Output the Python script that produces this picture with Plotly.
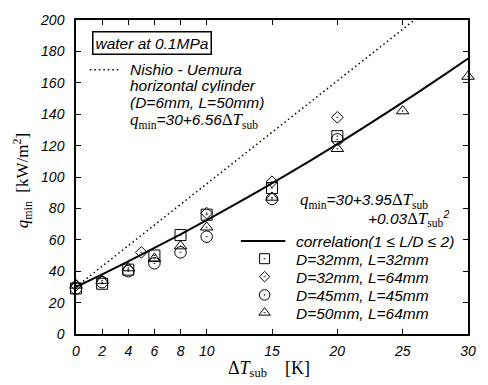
import plotly.graph_objects as go

# ---------------- data ----------------
x_sq = [0, 2, 4, 6, 8, 10, 15, 20]
y_sq = [29, 32, 41, 50, 63, 76, 93, 126]

x_di = [0, 5, 10, 15, 20]
y_di = [31, 52, 77, 97, 138]

x_ci = [0, 2, 4, 6, 8, 10, 15, 20]
y_ci = [29, 33, 40, 45, 52, 62, 86, 124]

x_tr = [0, 2, 4, 6, 8, 10, 15, 20, 25, 30]
y_tr = [31, 34, 42, 48, 56, 68, 87, 118, 142, 164]

# correlation curve
x_corr = [0, 2, 4, 6, 8, 10, 12, 14, 16, 18, 20, 22, 24, 26, 28, 30]
y_corr = [30, 38.0, 46.3, 54.8, 63.5, 72.5, 81.7, 91.2, 100.9, 110.8, 121.0,
          131.4, 142.1, 153.0, 164.1, 175.5]

# Nishio-Uemura line
x_nu = [0, 25.9]
y_nu = [30, 200]

x_ticks = [0, 2, 4, 6, 8, 10, 15, 20, 25, 30]
y_ticks = [0, 20, 40, 60, 80, 100, 120, 140, 160, 180, 200]

legend_labels = ["D=32mm, L=32mm", "D=32mm, L=64mm", "D=45mm, L=45mm", "D=50mm, L=64mm"]

# ---------------- layout geometry ----------------
W, H = 488, 385
L, R, T, B = 76, 15, 15, 51
PW, PH = W - L - R, H - T - B


def px(xp):
    return (xp - L) / PW


def py(yp):
    return (H - B - yp) / PH


SANS = "Liberation Sans"
SERIF = "Liberation Serif"
SER = "<span style='font-family:Liberation Serif;font-style:normal;font-size:16.5px'>"
SERI = "<span style='font-family:Liberation Serif;font-style:italic;font-size:17px'>"

fig = go.Figure()

fig.add_trace(go.Scatter(x=x_nu, y=y_nu, mode="lines",
                         line=dict(color="black", width=1.5, dash="1.5px,3px"),
                         showlegend=False, cliponaxis=False))
fig.add_trace(go.Scatter(x=x_corr, y=y_corr, mode="lines", line_shape="spline",
                         line=dict(color="black", width=2),
                         showlegend=False, cliponaxis=False))

series = [
    (x_sq, y_sq, "square-open-dot", 11),
    (x_di, y_di, "diamond-open-dot", 9),
    (x_ci, y_ci, "circle-open-dot", 11.5),
    (x_tr, y_tr, "triangle-up-open-dot", 11),
]
for xs, ys, sym, sz in series:
    fig.add_trace(go.Scatter(x=xs, y=ys, mode="markers",
                             marker=dict(symbol=sym, size=sz, color="black",
                                         line=dict(color="black", width=1)),
                             showlegend=False, cliponaxis=False))

# legend samples on an overlay (paper-like) axis
leg_rows_y = [257.5, 275.7, 294.3, 312.3]
for (xs, ys, sym, sz), ry in zip(series, leg_rows_y):
    fig.add_trace(go.Scatter(x=[px(267)], y=[py(ry)], mode="markers",
                             xaxis="x2", yaxis="y2",
                             marker=dict(symbol=sym, size=sz - 1, color="black",
                                         line=dict(color="black", width=1)),
                             showlegend=False, cliponaxis=False))

shapes = [
    dict(type="line", xref="paper", yref="paper", x0=px(243), x1=px(288),
         y0=py(239.5), y1=py(239.5), line=dict(color="black", width=2)),
    dict(type="line", xref="paper", yref="paper", x0=px(90), x1=px(122),
         y0=py(65.5), y1=py(65.5), line=dict(color="black", width=1.5, dash="1.5px,3px")),
]

ann = []


def add_text(text, xp, yp, size=15.5, xanchor="left", family=SANS, style="italic", **kw):
    ann.append(dict(text=text, x=px(xp), y=py(yp), xref="paper", yref="paper",
                    xanchor=xanchor, yanchor="middle", showarrow=False,
                    font=dict(family=family, size=size, color="black", style=style), **kw))


add_text("water at 0.1MPa", 153, 38.5, xanchor="center",
         bordercolor="black", borderwidth=1.5, borderpad=2)
add_text("Nishio - Uemura", 129, 65, height=15)
add_text("horizontal cylinder", 129, 82, height=15)
add_text("(D=6mm, L=50mm)", 129, 99, height=15)
add_text(SERI + "q</span>" + SER + "<sub>min</sub></span>=30+6.56" + SER + "Δ</span>"
         + SERI + "T</span>" + SER + "<sub>sub</sub></span>", 129, 117, height=17)

add_text(SERI + "q</span>" + SER + "<sub>min</sub></span>=30+3.95" + SER + "Δ</span>"
         + SERI + "T</span>" + SER + "<sub>sub</sub></span>", 301, 198, height=17)
add_text("+0.03" + SER + "Δ</span>" + SERI + "T</span>" + SER + "<sub>sub</sub></span>"
         + "<sup>2</sup>", 456, 217, xanchor="right", height=17)

add_text("correlation(1 ≤ L/D ≤ 2)", 297, 239.5, height=16)
for lab, ry in zip(legend_labels, leg_rows_y):
    add_text(lab, 297, ry, height=16)

# axis titles
add_text("<i>q</i><sub>min</sub>&nbsp;&nbsp;[kW/m<sup>2</sup>]", 22, 178, xanchor="center",
         family=SERIF, style="normal", size=17, textangle=-90)
add_text("Δ<i>T</i><sub>sub</sub>&nbsp;&nbsp;&nbsp;&nbsp;[K]", 271, 370, xanchor="center",
         family=SERIF, style="normal", size=18, height=20)

axis_common = dict(showgrid=False, zeroline=False, showline=True, linecolor="black",
                   linewidth=1.5, ticks="inside", ticklen=5, tickwidth=1, tickcolor="black",
                   mirror="ticks",
                   tickfont=dict(family=SANS, size=14, color="black", style="italic"))

fig.update_layout(
    width=W, height=H, margin=dict(l=L, r=R, t=T, b=B, pad=0),
    paper_bgcolor="white", plot_bgcolor="white",
    xaxis=dict(range=[0, 30], tickvals=x_ticks, ticklabelstandoff=3, **axis_common),
    yaxis=dict(range=[0, 200], tickvals=y_ticks, ticklabelstandoff=7, **axis_common),
    xaxis2=dict(overlaying="x", range=[0, 1], visible=False),
    yaxis2=dict(overlaying="y", range=[0, 1], visible=False),
    shapes=shapes, annotations=ann, showlegend=False,
)

fig.write_html("out.html")
